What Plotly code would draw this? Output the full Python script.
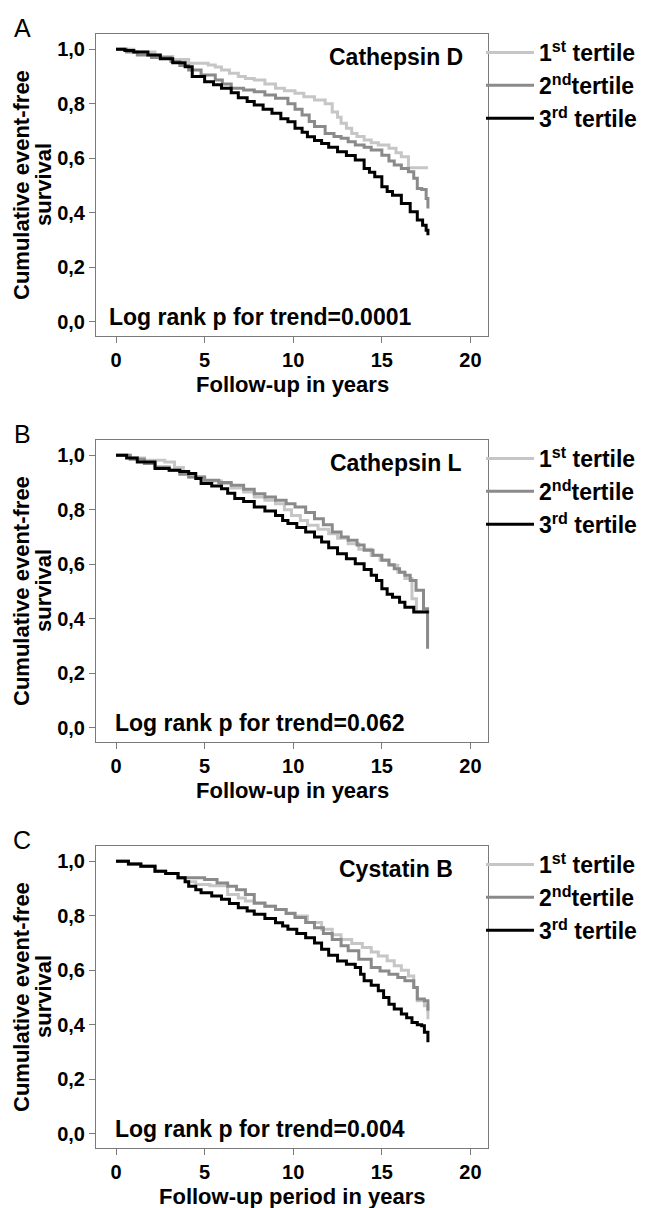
import plotly.graph_objects as go

FONT = "Liberation Sans, Arial, Helvetica, sans-serif"
W, H = 650, 1208

# ---------------- chart content ----------------
X_TICKS = [0, 5, 10, 15, 20]
Y_TICKS = [0.0, 0.2, 0.4, 0.6, 0.8, 1.0]
Y_TICK_TEXT = ["0,0", "0,2", "0,4", "0,6", "0,8", "1,0"]

TERTILES = ["1<sup>st</sup> tertile", "2<sup>nd</sup>tertile", "3<sup>rd</sup> tertile"]
TERTILE_COLORS = ["#c6c6c6", "#8a8a8a", "#000000"]

PANEL_LETTERS = ["A", "B", "C"]
MARKERS = ["Cathepsin D", "Cathepsin L", "Cystatin B"]
P_TEXT = ["Log rank p for trend=0.0001", "Log rank p for trend=0.062",
          "Log rank p for trend=0.004"]
X_TITLES = ["Follow-up in years", "Follow-up in years", "Follow-up period in years"]
Y_TITLE_LINES = ["Cumulative event-free", "survival"]

# ---------------- Panel A : Cathepsin D ----------------
A_T1 = [0, 1.0, 2.2, 3.2, 4.1, 5.2, 5.6, 5.95, 6.4, 6.9, 7.3, 7.8, 8.4, 9.0, 9.5, 10.1,
        10.6, 11.2, 11.8, 12.2, 12.5, 12.7, 13.0, 13.3, 13.6, 14.0, 14.4, 14.8, 15.4,
        15.8, 16.1, 16.5, 17.6]
A_S1 = [1.0, 0.99, 0.973, 0.962, 0.949, 0.942, 0.935, 0.924, 0.912, 0.90, 0.893, 0.887,
        0.872, 0.857, 0.848, 0.838, 0.826, 0.814, 0.80, 0.77, 0.75, 0.728, 0.71, 0.691,
        0.68, 0.667, 0.657, 0.648, 0.636, 0.62, 0.605, 0.565, 0.565]
A_T2 = [0, 0.6, 1.2, 2.0, 3.1, 3.6, 4.1, 4.8, 5.6, 6.0, 6.5, 7.2, 7.8, 8.4, 9.0, 9.7,
        10.1, 10.5, 10.9, 11.2, 11.8, 12.3, 12.7, 13.1, 13.5, 14.0, 14.4, 15.0, 15.4,
        15.7, 16.1, 16.5, 16.8, 17.0, 17.25, 17.5, 17.6]
A_S2 = [1.0, 0.99, 0.979, 0.97, 0.955, 0.94, 0.924, 0.905, 0.887, 0.872, 0.857, 0.85,
        0.844, 0.832, 0.82, 0.80, 0.78, 0.759, 0.735, 0.716, 0.691, 0.68, 0.673, 0.66,
        0.648, 0.64, 0.63, 0.611, 0.59, 0.575, 0.562, 0.55, 0.526, 0.489, 0.485, 0.452,
        0.415]
A_T3 = [0, 0.5, 1.0, 1.8, 2.5, 3.2, 3.9, 4.3, 5.0, 5.5, 5.95, 6.5, 6.9, 7.4, 7.8, 8.3,
        8.8, 9.3, 9.7, 10.1, 10.5, 10.8, 11.2, 11.6, 12.0, 12.5, 13.0, 13.5, 14.0, 14.3,
        14.6, 15.0, 15.3, 15.6, 16.1, 16.6, 17.0, 17.3, 17.5, 17.6]
A_S3 = [1.0, 0.995, 0.99, 0.979, 0.965, 0.95, 0.936, 0.90, 0.881, 0.87, 0.857, 0.84,
        0.822, 0.808, 0.795, 0.78, 0.765, 0.745, 0.734, 0.71, 0.695, 0.679, 0.665, 0.654,
        0.64, 0.624, 0.61, 0.593, 0.5625, 0.548, 0.532, 0.495, 0.478, 0.464, 0.434,
        0.403, 0.373, 0.354, 0.335, 0.317]

# ---------------- Panel B : Cathepsin L ----------------
B_T1 = [0, 0.8, 1.6, 2.75, 3.3, 3.8, 4.1, 5.0, 5.95, 6.5, 7.2, 7.8, 8.4, 9.0, 9.5, 9.9,
        10.4, 10.8, 11.4, 12.0, 12.5, 13.1, 13.7, 14.4, 14.9, 15.4, 15.9, 16.3, 16.7,
        16.95, 17.6]
B_S1 = [1.0, 0.99, 0.982, 0.975, 0.955, 0.935, 0.92, 0.905, 0.896, 0.88, 0.865, 0.847,
        0.835, 0.822, 0.80, 0.779, 0.76, 0.743, 0.728, 0.712, 0.695, 0.675, 0.655, 0.632,
        0.615, 0.596, 0.57, 0.547, 0.473, 0.425, 0.42]
B_T2 = [0, 0.8, 1.6, 2.2, 3.0, 3.6, 4.1, 5.0, 5.8, 6.5, 7.2, 7.8, 8.4, 9.0, 9.6, 10.1,
        10.7, 11.2, 11.7, 12.2, 12.7, 13.1, 13.6, 14.0, 14.5, 15.0, 15.4, 15.7, 16.0,
        16.3, 16.6, 16.93, 17.35, 17.58]
B_S2 = [1.0, 0.985, 0.97, 0.957, 0.945, 0.93, 0.92, 0.908, 0.90, 0.89, 0.875, 0.859,
        0.847, 0.835, 0.822, 0.81, 0.79, 0.767, 0.745, 0.718, 0.70, 0.688, 0.67, 0.651,
        0.633, 0.614, 0.598, 0.583, 0.57, 0.559, 0.54, 0.504, 0.436, 0.289]
B_T3 = [0, 0.6, 1.2, 2.2, 3.0, 3.6, 4.1, 4.5, 4.8, 5.4, 5.95, 6.3, 6.7, 7.2, 7.8, 8.4,
        9.0, 9.4, 9.7, 10.2, 10.7, 11.2, 11.6, 12.0, 12.5, 13.0, 13.5, 14.0, 14.4, 14.7,
        15.0, 15.3, 15.6, 16.0, 16.3, 16.8, 17.65]
B_S3 = [1.0, 0.99, 0.975, 0.951, 0.945, 0.94, 0.933, 0.915, 0.896, 0.887, 0.877, 0.86,
        0.841, 0.83, 0.81, 0.795, 0.779, 0.76, 0.749, 0.735, 0.718, 0.70, 0.681, 0.66,
        0.638, 0.62, 0.602, 0.58, 0.559, 0.54, 0.51, 0.49, 0.479, 0.46, 0.442, 0.424,
        0.424]

# ---------------- Panel C : Cystatin B ----------------
C_T1 = [0, 0.7, 1.4, 2.2, 2.8, 3.5, 3.9, 4.5, 5.3, 6.3, 6.9, 7.3, 7.8, 8.4, 9.0, 9.6,
        10.1, 10.8, 11.6, 12.2, 12.7, 13.3, 13.9, 14.4, 14.8, 15.3, 15.7, 16.1, 16.5,
        16.8, 17.0, 17.4, 17.6]
C_S1 = [1.0, 0.99, 0.982, 0.963, 0.955, 0.939, 0.925, 0.915, 0.91, 0.878, 0.865, 0.854,
        0.845, 0.835, 0.823, 0.81, 0.799, 0.775, 0.75, 0.73, 0.713, 0.698, 0.683, 0.667,
        0.652, 0.635, 0.616, 0.60, 0.579, 0.536, 0.488, 0.469, 0.42]
C_T2 = [0, 0.7, 1.4, 2.2, 2.8, 3.5, 5.0, 5.7, 6.3, 6.8, 7.3, 7.8, 8.4, 9.0, 9.6, 10.1,
        10.7, 11.2, 11.7, 12.2, 12.7, 13.1, 13.7, 14.4, 14.9, 15.4, 15.9, 16.3, 16.8,
        17.0, 17.4, 17.6]
C_S2 = [1.0, 0.99, 0.982, 0.963, 0.955, 0.939, 0.933, 0.92, 0.908, 0.895, 0.878, 0.847,
        0.835, 0.823, 0.808, 0.793, 0.775, 0.756, 0.735, 0.713, 0.69, 0.671, 0.64, 0.61,
        0.597, 0.585, 0.573, 0.561, 0.536, 0.494, 0.488, 0.451]
C_T3 = [0, 0.7, 1.4, 2.2, 2.8, 3.5, 3.9, 4.1, 4.5, 4.8, 5.4, 5.95, 6.4, 6.9, 7.4, 7.8,
        8.4, 9.0, 9.4, 9.7, 10.2, 10.7, 11.2, 11.6, 12.0, 12.5, 13.0, 13.5, 13.8, 14.0,
        14.4, 14.8, 15.1, 15.4, 15.7, 16.1, 16.4, 16.7, 17.0, 17.25, 17.4, 17.6]
C_S3 = [1.0, 0.99, 0.982, 0.963, 0.955, 0.939, 0.925, 0.908, 0.895, 0.884, 0.872, 0.86,
        0.845, 0.829, 0.817, 0.805, 0.79, 0.774, 0.762, 0.75, 0.735, 0.719, 0.70, 0.677,
        0.655, 0.634, 0.622, 0.61, 0.585, 0.561, 0.545, 0.524, 0.50, 0.475, 0.457, 0.439,
        0.425, 0.408, 0.40, 0.396, 0.372, 0.335]

PANEL_DATA = [
    [(A_T1, A_S1), (A_T2, A_S2), (A_T3, A_S3)],
    [(B_T1, B_S1), (B_T2, B_S2), (B_T3, B_S3)],
    [(C_T1, C_S1), (C_T2, C_S2), (C_T3, C_S3)],
]

# ---------------- geometry (pixels) ----------------
PLOT_LEFT, PLOT_RIGHT = 88, 480
PANEL_TOPS = [26, 432, 838]
PANEL_H = 302
X_RANGE = [-1.13, 20.99]
Y_RANGE = [-0.053, 1.056]


def fx(px):
    return px / W


def fy(py):
    return 1 - py / H


fig = go.Figure()
annotations = []
layout = dict(
    width=W, height=H, autosize=False,
    margin=dict(l=0, r=0, t=0, b=0),
    paper_bgcolor="white", plot_bgcolor="white",
    showlegend=True,
    font=dict(family=FONT, color="black"),
)

for i in range(3):
    suf = "" if i == 0 else str(i + 1)
    top = PANEL_TOPS[i]
    for j, (t, s) in enumerate(PANEL_DATA[i]):
        fig.add_trace(go.Scatter(
            x=t, y=s, mode="lines",
            line=dict(shape="hv", color=TERTILE_COLORS[j], width=3),
            name=TERTILES[j], xaxis="x" + suf, yaxis="y" + suf,
            legend="legend" + suf, legendgroup=f"p{i}t{j}",
            hoverinfo="skip",
        ))
    common = dict(showline=True, mirror=True, linecolor="#7a7a7a", linewidth=1,
                  ticks="outside", ticklen=6, tickcolor="#7a7a7a", tickwidth=1,
                  showgrid=False, zeroline=False, fixedrange=True,
                  tickfont=dict(family=FONT, size=20, color="black", weight="bold"))
    layout["xaxis" + suf] = dict(
        common, domain=[fx(PLOT_LEFT), fx(PLOT_RIGHT)], range=X_RANGE,
        tickvals=X_TICKS, ticktext=[str(v) for v in X_TICKS],
        anchor="y" + suf)
    layout["yaxis" + suf] = dict(
        common, domain=[fy(top + PANEL_H), fy(top)], range=Y_RANGE,
        tickvals=Y_TICKS, ticktext=Y_TICK_TEXT, anchor="x" + suf)
    layout["legend" + suf] = dict(
        x=fx(473), y=fy(top - 3), xanchor="left", yanchor="top",
        bgcolor="rgba(0,0,0,0)", tracegroupgap=0, itemwidth=48,
        font=dict(family=FONT, size=23, color="black", weight="bold"))

    big = dict(family=FONT, size=23, color="black", weight="bold")
    mid = dict(family=FONT, size=22, color="black", weight="bold")
    annotations += [
        dict(text=PANEL_LETTERS[i], x=fx(14), y=fy(top - 6), xref="paper", yref="paper",
             showarrow=False, xanchor="center", yanchor="middle",
             font=dict(family=FONT, size=25, color="black")),
        dict(text=MARKERS[i], x=fx(388), y=fy(top + 23), xref="paper", yref="paper",
             showarrow=False, xanchor="center", yanchor="middle", font=big),
        dict(text=P_TEXT[i], x=fx(252), y=fy(top + 283), xref="paper", yref="paper",
             showarrow=False, xanchor="center", yanchor="middle", font=big),
        dict(text=X_TITLES[i], x=fx(284), y=fy(top + 350), xref="paper", yref="paper",
             showarrow=False, xanchor="center", yanchor="middle", font=mid),
        dict(text=Y_TITLE_LINES[0], x=fx(13), y=fy(top + 151), xref="paper",
             yref="paper", showarrow=False, xanchor="center", yanchor="middle",
             textangle=-90, font=mid),
        dict(text=Y_TITLE_LINES[1], x=fx(35), y=fy(top + 151), xref="paper",
             yref="paper", showarrow=False, xanchor="center", yanchor="middle",
             textangle=-90, font=mid),
    ]

layout["annotations"] = annotations
fig.update_layout(**layout)
fig.write_html("out.html")
